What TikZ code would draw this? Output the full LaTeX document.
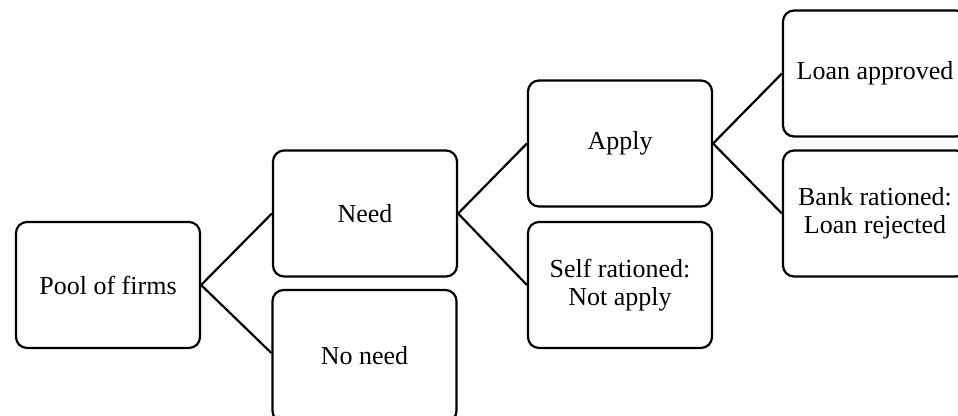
\documentclass[tikz,border=0pt]{standalone}
\usepackage{fontspec}
\setmainfont{Liberation Serif}
\begin{document}
\begin{tikzpicture}[x=1pt,y=1pt,
  box/.style={draw=black, line width=2.2pt, rounded corners=11pt, fill=white,
    minimum width=184pt, minimum height=126pt, align=center, inner sep=0pt,
    font=\fontsize{26}{28}\selectfont},
  link/.style={draw=black, line width=2.2pt}]
\useasboundingbox (0,0) rectangle (958,-415);
\node[box] (pool) at (108,-285) {Pool of firms};
\node[box] (need) at (365,-213.5) {Need};
\node[box, minimum height=132pt] (noneed) at (364.5,-356) {No need};
\node[box] (apply) at (620,-143.5) {Apply};
\node[box] (self) at (620,-285) {Self rationed:\\Not apply};
\node[box] (loan) at (875,-73.5) {Loan approved};
\node[box] (bank) at (875,-213.5) {Bank rationed:\\Loan rejected};
\draw[link] (pool.east) -- ([yshift=3pt]noneed.west);
\draw[link] (pool.east) -- (need.west);
\draw[link] (need.east) -- (apply.west);
\draw[link] (need.east) -- (self.west);
\draw[link] (apply.east) -- (loan.west);
\draw[link] (apply.east) -- (bank.west);
\end{tikzpicture}
\end{document}
